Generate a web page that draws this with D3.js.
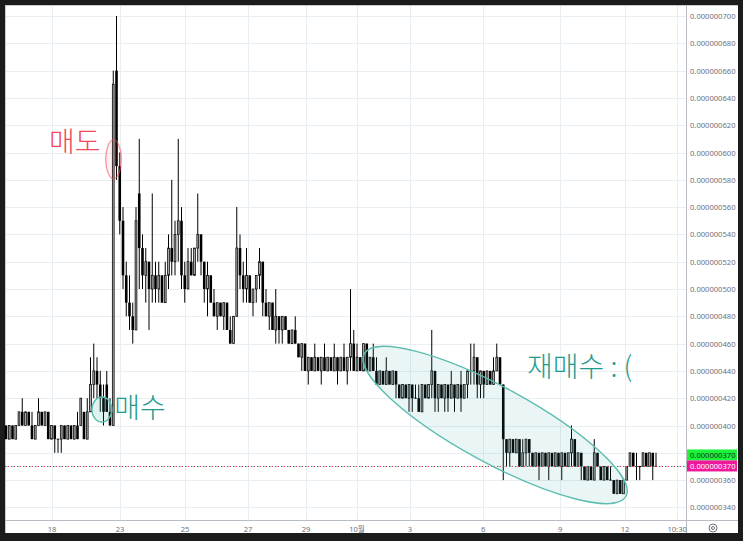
<!DOCTYPE html>
<html><head><meta charset="utf-8">
<script src="https://cdn.jsdelivr.net/npm/d3@7"></script>
<style>html,body{margin:0;padding:0;background:#1c1c1c;} svg{display:block}</style>
</head><body><svg id="c" width="743" height="541"></svg>
<script>
// price values in units of 1e-9 ([open, high, low, close] per bar)
const ohlc = [
[400,400,390,390],[390,400,390,400],[400,400,390,390],[390,400,390,400],[400,410,400,410],
[410,420,400,400],[400,410,400,410],[410,410,400,400],[400,410,390,390],[390,400,390,400],
[400,420,400,410],[410,410,400,400],[400,410,400,410],[410,410,390,390],[390,400,390,400],
[400,400,380,390],[390,390,380,390],[390,400,380,400],[400,400,390,390],[390,400,390,400],
[400,400,390,390],[390,400,390,400],[400,410,390,390],[400,420,400,420],[410,410,390,390],
[390,420,390,410],[410,450,410,430],[430,460,420,440],[440,450,420,430],[430,440,410,420],
[420,430,400,410],[430,440,410,410],[410,420,400,400],[400,660,400,650],[660,700,580,590],
[590,600,540,550],[550,560,500,510],[510,520,480,490],[490,510,470,480],[480,490,460,470],
[470,560,470,550],[570,610,500,530],[530,540,500,510],[510,530,490,520],[520,520,470,500],
[500,570,490,510],[510,520,490,500],[500,520,490,510],[510,510,490,490],[490,520,490,510],
[510,540,500,530],[530,580,510,520],[520,550,510,540],[540,610,520,550],[550,560,500,510],
[510,520,490,500],[500,530,500,520],[520,530,510,510],[510,530,510,530],[530,570,520,540],
[540,540,510,520],[520,520,490,500],[500,520,480,510],[510,510,490,490],[490,500,480,480],
[480,490,470,490],[490,490,480,480],[480,490,470,490],[490,490,470,470],[470,480,460,460],
[460,480,460,480],[480,560,480,530],[530,540,500,510],[510,520,490,500],[500,530,490,510],
[510,510,490,490],[490,500,480,500],[500,510,490,510],[510,530,500,520],[520,520,480,490],
[490,500,480,480],[480,490,470,490],[490,490,470,470],[470,500,460,480],[480,480,460,470],
[470,480,460,480],[480,480,470,470],[470,470,460,460],[460,470,460,470],[470,480,460,460],
[460,460,450,450],[450,460,440,460],[460,460,440,440],[440,450,430,450],[450,450,440,440],
[440,460,440,450],[450,450,440,440],[440,450,430,450],[450,460,440,440],[440,450,440,450],
[450,450,440,440],[440,460,440,450],[450,450,430,440],[440,450,440,450],[450,460,440,440],
[440,450,430,450],[450,500,440,460],[460,470,440,440],[440,460,440,450],[450,450,440,440],
[440,460,440,460],[460,460,440,440],[440,450,440,450],[450,460,440,440],[440,450,430,430],
[430,440,430,440],[440,440,430,430],[430,450,430,440],[440,440,430,430],[430,440,430,440],
[440,440,420,430],[430,430,420,420],[420,430,420,430],[430,430,420,420],[420,430,410,430],
[430,430,410,420],[420,430,420,420],[420,430,410,410],[410,430,410,430],[430,430,420,420],
[420,430,420,430],[430,470,420,440],[440,440,410,420],[420,430,410,430],[430,430,420,420],
[420,430,410,430],[430,430,410,420],[420,440,420,430],[430,430,410,420],[420,430,420,430],
[430,440,410,420],[420,430,420,430],[430,440,420,440],[440,460,430,440],[440,460,430,450],
[450,450,420,430],[430,440,420,440],[440,440,420,430],[430,440,430,440],[440,440,430,430],
[430,450,430,440],[440,460,440,450],[450,450,430,430],[430,430,360,390],[390,390,370,380],
[380,390,370,390],[390,390,380,380],[380,390,380,390],[390,390,370,370],[370,390,370,380],
[380,390,370,390],[390,390,370,380],[380,380,370,370],[370,380,370,380],[380,380,360,370],
[370,380,370,380],[380,380,370,370],[370,380,360,380],[380,380,370,370],[370,380,370,380],
[380,380,370,370],[370,380,360,380],[380,380,370,370],[370,380,370,380],[380,400,370,390],
[390,390,370,370],[370,380,370,380],[380,380,360,370],[370,370,360,360],[360,370,360,370],
[370,370,360,360],[360,390,360,380],[380,380,370,370],[370,370,360,360],[360,370,360,370],
[370,370,360,360],[360,370,360,360],[360,360,350,350],[350,360,350,360],[360,360,350,350],
[350,360,350,360],[360,370,360,370],[370,380,370,380],[380,380,370,370],[370,380,360,370],
[370,370,360,370],[370,380,370,380],[380,380,370,370],[370,380,370,380],[380,380,360,370],
[370,380,370,370]
];
const priceTicks = [340,360,380,400,420,440,460,480,500,520,540,560,580,600,620,640,660,680,700];
const timeLabels = ["18","23","25","27","29","10월","3","6","9","12","10:30"];
const timeTickIdx = [14.15,35.1,55.1,74.5,92.3,108,124.3,146.8,170.5,190.5,206.5];
const lastPrice = 370;
const notes = [
  {text:["매도"], idx:13.2, price:609, color:"#f0485a"},
  {text:["매수"], idx:33.3, price:414.5, color:"#1f9b8b"},
  {text:["재매수 :", "("], idx:160.3, price:444.5, color:"#1f9b8b"}
];
const marks = [
  {idx:33.1, price:595, rx:7.8, ry:19.5, rot:0, stroke:"rgba(242,80,95,0.55)", fill:"rgba(242,54,69,0.07)"},
  {idx:29.5, price:411.7, rx:10, ry:12.5, rot:0, stroke:"#5cbdb0", fill:"rgba(38,166,154,0.15)"},
  {idx:150.5, price:400.4, rx:149, ry:37.7, rot:28.6, stroke:"#5cbdb0", fill:"rgba(38,166,154,0.10)"}
];

const svg = d3.select("#c");
const W = 743, H = 541;
const L = 5, T = 5, PR = 686, PB = 520, R = 738, B = 533;
const fmt = v => (v*1e-9).toFixed(9);

svg.append("rect").attr("x",0).attr("y",0).attr("width",W).attr("height",H).attr("fill","#1c1c1c");
svg.append("rect").attr("x",L).attr("y",T).attr("width",R-L).attr("height",B-T).attr("fill","#fff");

const x = d3.scaleLinear().domain([0,200]).range([6,656]);
const y = d3.scaleLinear().domain([340,700]).range([507.4,16]);

const g = svg.append("g");
g.selectAll(".hg").data(priceTicks).enter().append("line")
  .attr("x1",L).attr("x2",PR).attr("y1",d=>Math.round(y(d))+0.5).attr("y2",d=>Math.round(y(d))+0.5)
  .attr("stroke","#e9eef3").attr("stroke-width",1);
g.selectAll(".vg").data(timeTickIdx).enter().append("line")
  .attr("y1",T).attr("y2",PB).attr("x1",d=>Math.round(x(d))+0.5).attr("x2",d=>Math.round(x(d))+0.5)
  .attr("stroke","#e9eef3").attr("stroke-width",1);

svg.append("line").attr("x1",L).attr("x2",R).attr("y1",T+0.5).attr("y2",T+0.5).attr("stroke","#c8cbd2");
svg.append("line").attr("x1",L+0.5).attr("x2",L+0.5).attr("y1",T).attr("y2",B).attr("stroke","#c8cbd2");
svg.append("line").attr("x1",PR+0.5).attr("x2",PR+0.5).attr("y1",T).attr("y2",B).attr("stroke","#b8bcc4");
svg.append("line").attr("x1",L).attr("x2",R).attr("y1",PB+0.5).attr("y2",PB+0.5).attr("stroke","#b8bcc4");

// candles
const bw = 2.6;
const cg = svg.append("g");
ohlc.forEach((d,i)=>{
  const [o,h,l,c] = d;
  const cx = x(i);
  cg.append("line").attr("x1",cx).attr("x2",cx).attr("y1",y(h)).attr("y2",y(l))
    .attr("stroke","#000").attr("stroke-width",1);
  const top = y(Math.max(o,c)), bot = y(Math.min(o,c));
  if (c < o) {
    cg.append("rect").attr("x",cx-bw/2).attr("y",top).attr("width",bw).attr("height",bot-top).attr("fill","#000");
  } else if (c > o) {
    cg.append("rect").attr("x",cx-bw/2+0.4).attr("y",top).attr("width",bw-0.8).attr("height",bot-top)
      .attr("fill","#a8a8a8").attr("stroke","#111").attr("stroke-width",0.8);
  } else {
    cg.append("line").attr("x1",cx-bw/2).attr("x2",cx+bw/2).attr("y1",top).attr("y2",top)
      .attr("stroke","#000").attr("stroke-width",1);
  }
});

svg.append("line").attr("x1",L).attr("x2",PR).attr("y1",y(lastPrice)).attr("y2",y(lastPrice))
  .attr("stroke","#e91e63").attr("stroke-width",1).attr("stroke-dasharray","1,2");
svg.append("line").attr("x1",L+1.5).attr("x2",PR).attr("y1",y(lastPrice)).attr("y2",y(lastPrice))
  .attr("stroke","#2fbf4f").attr("stroke-width",1).attr("stroke-dasharray","1,5");

marks.forEach(m=>{
  svg.append("ellipse").attr("cx",0).attr("cy",0).attr("rx",m.rx).attr("ry",m.ry)
    .attr("transform",`translate(${x(m.idx)},${y(m.price)}) rotate(${m.rot})`)
    .attr("fill",m.fill).attr("stroke",m.stroke).attr("stroke-width",1.4);
});
notes.forEach(n=>{
  const t = svg.append("text").attr("x",x(n.idx)).attr("y",y(n.price)).attr("dominant-baseline","central")
    .attr("font-family","'Noto Sans CJK KR','Noto Sans',sans-serif").attr("font-size",28)
    .attr("font-weight",300).attr("fill",n.color).attr("xml:space","preserve");
  n.text.forEach((s,k)=>{ t.append("tspan").attr("dx",k?6:0).text(s); });
});

const ly = y(lastPrice);
svg.selectAll(".pl").data(priceTicks.filter(d=>!(y(d)<ly && ly-y(d)<16))).enter().append("text")
  .attr("x",690).attr("y",d=>y(d)).attr("dominant-baseline","central")
  .attr("font-family","'Noto Sans',sans-serif").attr("font-size",7.6).attr("fill","#6f727d")
  .text(d=>fmt(d));

svg.append("rect").attr("x",PR+1).attr("y",ly-17).attr("width",50).attr("height",11).attr("fill","#1cf23a");
svg.append("text").attr("x",690).attr("y",ly-11.5).attr("dominant-baseline","central")
  .attr("font-family","'Noto Sans',sans-serif").attr("font-size",7.6).attr("fill","#10361a").text(fmt(lastPrice));
svg.append("rect").attr("x",PR+1).attr("y",ly-6).attr("width",50).attr("height",11).attr("fill","#f0189a");
svg.append("text").attr("x",690).attr("y",ly-0.5).attr("dominant-baseline","central")
  .attr("font-family","'Noto Sans',sans-serif").attr("font-size",7.6).attr("fill","#fff").text(fmt(lastPrice));

svg.selectAll(".tl").data(timeTickIdx).enter().append("text")
  .attr("x",d=>x(d)).attr("y",529).attr("text-anchor","middle").attr("dominant-baseline","central")
  .attr("font-family","'Noto Sans','Noto Sans CJK KR',sans-serif").attr("font-size",7.6).attr("fill","#6f727d")
  .text((d,i)=>timeLabels[i]);

svg.append("circle").attr("cx",713).attr("cy",528).attr("r",4).attr("fill","none").attr("stroke","#6f727d").attr("stroke-width",1);
svg.append("circle").attr("cx",713).attr("cy",528).attr("r",1.5).attr("fill","none").attr("stroke","#6f727d").attr("stroke-width",1);
</script></body></html>
